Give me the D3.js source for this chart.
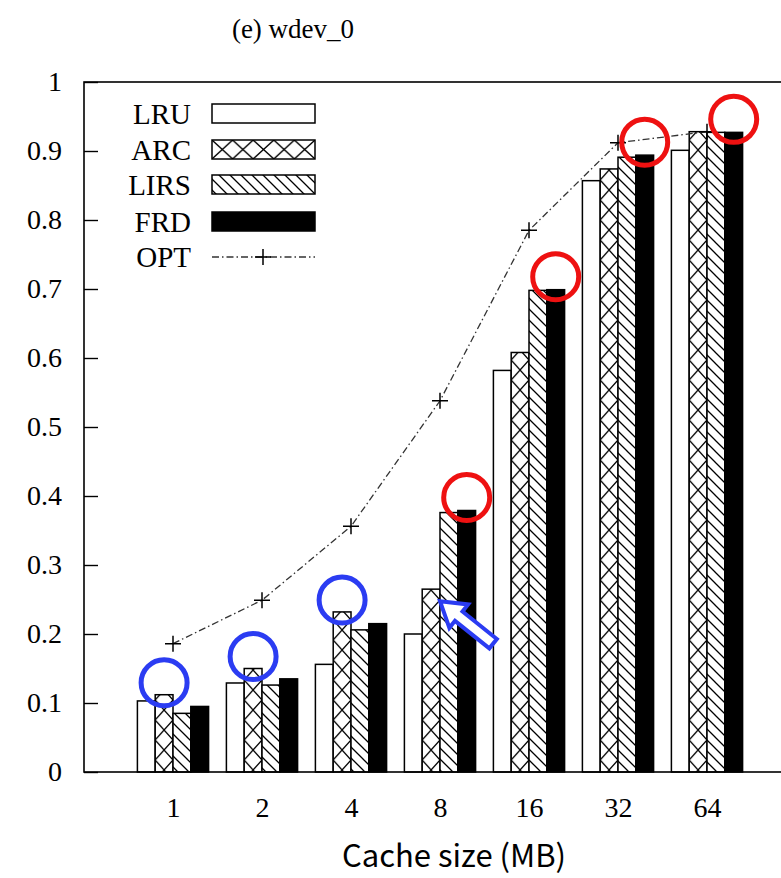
<!DOCTYPE html>
<html><head><meta charset="utf-8">
<script src="https://cdn.jsdelivr.net/npm/d3@7"></script>
<style>html,body{margin:0;padding:0;background:#fff;overflow:hidden}</style>
</head><body>
<script>
const categories = ["1","2","4","8","16","32","64"];
const seriesNames = ["LRU","ARC","LIRS","FRD"];
const lru  = [0.103, 0.129, 0.156, 0.200, 0.582, 0.857, 0.901];
const arc  = [0.112, 0.150, 0.232, 0.265, 0.608, 0.874, 0.928];
const lirs = [0.085, 0.126, 0.206, 0.376, 0.698, 0.891, 0.927];
const frd  = [0.095, 0.135, 0.215, 0.379, 0.699, 0.894, 0.927];
const opt  = [0.186, 0.249, 0.356, 0.538, 0.785, 0.912, 0.928];
const yTicks = [0,0.1,0.2,0.3,0.4,0.5,0.6,0.7,0.8,0.9,1];
const yTickLabels = ["0","0.1","0.2","0.3","0.4","0.5","0.6","0.7","0.8","0.9","1"];
const blueMarked = [0,1,2];   // ARC bars circled in blue
const redMarked = [3,4,5,6];  // FRD bars circled in red
const arrowAt = 3;            // arrow pointing at ARC bar top
const title = "(e) wdev_0";
const xTitle = "Cache size (MB)";

const values = [lru, arc, lirs, frd];
const W = 781, H = 878;
const svg = d3.select("body").append("svg").attr("width", W).attr("height", H);
const x = d3.scaleLinear().domain([-1, 7]).range([84, 796]);
const y = d3.scaleLinear().domain([0, 1]).range([772, 82]);
const bw = (x(1) - x(0)) * 0.2;
const serif = "'Liberation Serif','Times New Roman',serif";
const blue = "#2b3cf2", red = "#ee1111";

const defs = svg.append("defs");
categories.forEach((c, i) => {
  const bx = x(i) - bw;
  const p = defs.append("pattern").attr("id", "xh" + i).attr("patternUnits", "userSpaceOnUse")
    .attr("x", bx).attr("y", 0).attr("width", bw).attr("height", 20);
  p.append("rect").attr("width", bw).attr("height", 20).attr("fill", "#fff");
  p.append("path").attr("d", `M0,0L${bw},20M${bw},0L0,20`).attr("stroke", "#000").attr("stroke-width", 1.3).attr("fill", "none");
});
{
  const p = defs.append("pattern").attr("id", "xhLeg").attr("patternUnits", "userSpaceOnUse")
    .attr("x", 212).attr("y", 140).attr("width", 20.6).attr("height", 19);
  p.append("rect").attr("width", 20.6).attr("height", 19).attr("fill", "#fff");
  p.append("path").attr("d", "M0,0L20.6,19M20.6,0L0,19").attr("stroke", "#000").attr("stroke-width", 1.3).attr("fill", "none");
}
{
  const s = 11;
  const p = defs.append("pattern").attr("id", "dh").attr("patternUnits", "userSpaceOnUse")
    .attr("width", s).attr("height", s);
  p.append("rect").attr("width", s).attr("height", s).attr("fill", "#fff");
  p.append("path").attr("d", `M0,0L${s},${s}M${-s/2},${s/2}L${s/2},${s*1.5}M${s/2},${-s/2}L${s*1.5},${s/2}`)
    .attr("stroke", "#000").attr("stroke-width", 1.3);
}
const fillFor = (j, i) => j === 0 ? "#fff" : j === 1 ? `url(#xh${i})` : j === 2 ? "url(#dh)" : "#000";

svg.append("text").attr("x", 293).attr("y", 38).attr("text-anchor", "middle")
  .attr("font-family", serif).attr("font-size", 27).text(title);

const g = svg.append("g");
categories.forEach((c, i) => {
  values.forEach((arr, j) => {
    const bx = x(i) + (j - 2) * bw;
    g.append("rect").attr("x", bx).attr("y", y(arr[i])).attr("width", bw)
      .attr("height", y(0) - y(arr[i])).attr("fill", fillFor(j, i))
      .attr("stroke", "#000").attr("stroke-width", 1.5);
  });
});

const line = d3.line().x((d, i) => x(i)).y(d => y(d));
svg.append("path").attr("d", line(opt)).attr("fill", "none").attr("stroke", "#333")
  .attr("stroke-width", 1.3).attr("stroke-dasharray", "7,3,1.5,3");
const plus = (sel, cx, cy) => sel.append("path").attr("d", `M${cx-8},${cy}H${cx+8}M${cx},${cy-8}V${cy+8}`)
  .attr("stroke", "#000").attr("stroke-width", 1.5);
opt.forEach((v, i) => plus(svg, x(i), y(v)));

svg.append("rect").attr("x", 84).attr("y", y(1)).attr("width", x(7) - 84).attr("height", y(0) - y(1))
  .attr("fill", "none").attr("stroke", "#000").attr("stroke-width", 1.6);

const yAxis = d3.axisLeft(y).tickValues(yTicks).tickSize(-14).tickPadding(22)
  .tickFormat((d, i) => yTickLabels[i]);
const ya = svg.append("g").attr("transform", "translate(84,0)").call(yAxis);
ya.select(".domain").remove();
ya.selectAll(".tick line").attr("stroke", "#000").attr("stroke-width", 1.4);
ya.selectAll("text").attr("font-family", serif).attr("font-size", 28).attr("fill", "#000");

const xAxis = d3.axisBottom(x).tickValues(d3.range(categories.length)).tickSize(0).tickPadding(25)
  .tickFormat(i => categories[i]);
const xa = svg.append("g").attr("transform", `translate(0,${y(0)})`).call(xAxis);
xa.select(".domain").remove();
xa.selectAll("text").attr("font-family", serif).attr("font-size", 28).attr("fill", "#000");

svg.append("text").attr("x", 454).attr("y", 867).attr("text-anchor", "middle")
  .attr("font-family", "'Noto Sans CJK KR','Noto Sans',sans-serif").attr("font-size", 31).text(xTitle);

const legNames = ["LRU","ARC","LIRS","FRD","OPT"];
const legY = [113.5, 149.5, 184.5, 221.5, 257];
const legFill = ["#fff", "url(#xhLeg)", "url(#dh)", "#000"];
legNames.forEach((n, k) => {
  svg.append("text").attr("x", 191).attr("y", legY[k]).attr("dy", "0.35em").attr("text-anchor", "end")
    .attr("font-family", serif).attr("font-size", 29).text(n);
  if (k < 4) {
    svg.append("rect").attr("x", 212).attr("y", legY[k] - 9.5).attr("width", 103).attr("height", 19)
      .attr("fill", legFill[k]).attr("stroke", "#000").attr("stroke-width", 1.5);
  } else {
    svg.append("path").attr("d", `M212,${legY[k]}H315`).attr("stroke", "#333").attr("stroke-width", 1.3)
      .attr("stroke-dasharray", "7,3,1.5,3");
    plus(svg, 263, legY[k]);
  }
});

blueMarked.forEach(i => {
  svg.append("circle").attr("cx", x(i) - bw / 2).attr("cy", y(arc[i]) - 12).attr("r", 23)
    .attr("fill", "none").attr("stroke", blue).attr("stroke-width", 5);
});
redMarked.forEach(i => {
  svg.append("circle").attr("cx", x(i) + bw * 1.5).attr("cy", y(frd[i]) - 13).attr("r", 23)
    .attr("fill", "none").attr("stroke", red).attr("stroke-width", 5);
});
{
  const tx = x(arrowAt), ty = y(arc[arrowAt]) + 12;
  const ang = Math.atan2(44, 55) * 180 / Math.PI;
  const pts = [[0,0],[24,-15],[24,-6],[68,-6],[68,6],[24,6],[24,15]];
  svg.append("polygon").attr("points", pts.map(p => p.join(",")).join(" "))
    .attr("transform", `translate(${tx},${ty}) rotate(${ang})`)
    .attr("fill", "#fff").attr("stroke", blue).attr("stroke-width", 4).attr("stroke-linejoin", "miter");
}
</script>
</body></html>
